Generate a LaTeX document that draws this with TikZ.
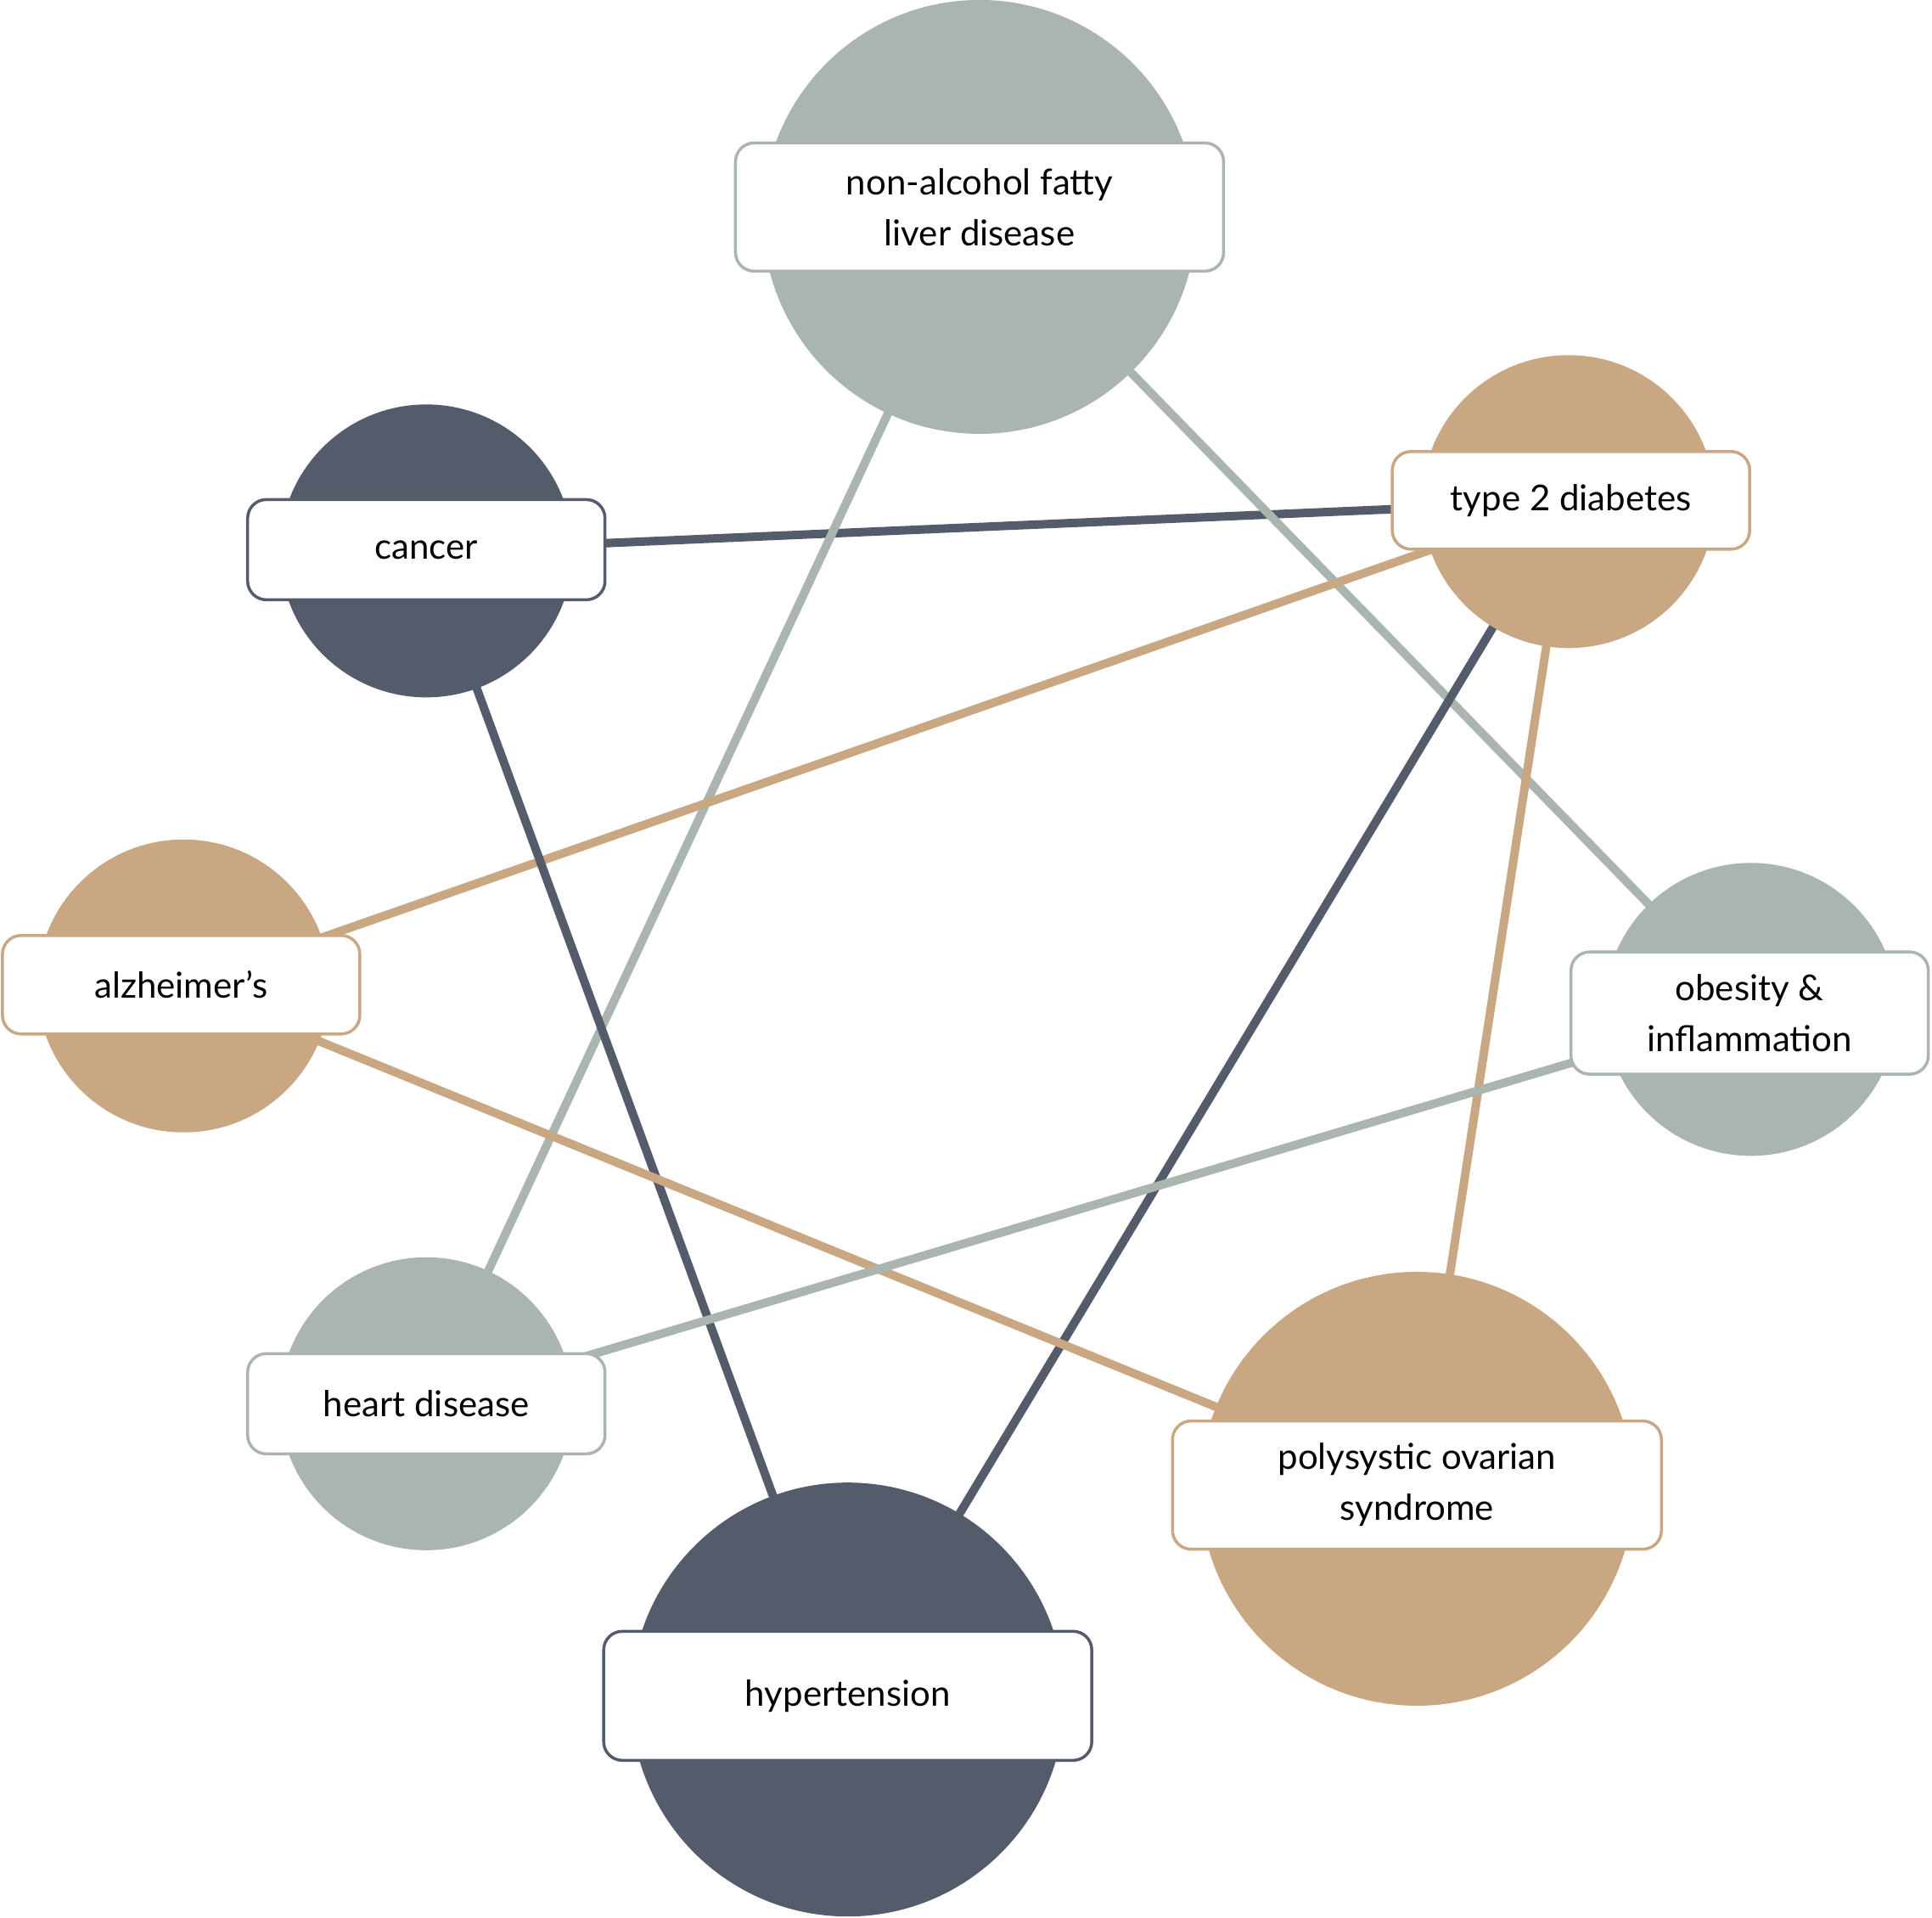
\documentclass[tikz,border=0pt]{standalone}
\usepackage{fontspec}
\setmainfont{Lato}
\definecolor{sage}{HTML}{A9B5AE}
\definecolor{slate}{HTML}{545B6A}
\definecolor{tan}{HTML}{C8A782}
\begin{document}
\begin{tikzpicture}[x=1.4515pt,y=-1.4515pt,
  big/.style={circle,fill=#1,minimum size=511pt,inner sep=0pt},
  small/.style={circle,fill=#1,minimum size=345pt,inner sep=0pt},
  lbl/.style={draw=#1,line width=3.5pt,fill=white,rounded corners=22pt,align=center,font=\fontsize{42}{60}\selectfont,minimum width=421pt,inner sep=0pt},
  link/.style={draw=#1,line width=10pt}]
\useasboundingbox (0,0) rectangle (1568,1556);
\coordinate (cN) at (795,176);
\coordinate (cC) at (346,447);
\coordinate (cT) at (1273,407);
\coordinate (cA) at (149,800);
\coordinate (cO) at (1421,819);
\coordinate (cH) at (346,1139);
\coordinate (cP) at (1150,1208);
\coordinate (cY) at (688,1379);
\draw[link=slate] (cC) -- (cT);
\draw[link=sage] (cN) -- (cH);
\draw[link=sage] (cN) -- (cO);
\draw[link=tan] (cT) -- (cA);
\draw[link=slate] (cT) -- (cY);
\draw[link=tan] (cT) -- (cP);
\draw[link=slate] (cC) -- (cY);
\draw[link=tan] (cA) -- (cP);
\draw[link=sage] (cO) -- (cH);
\node[big=sage] (N) at (cN) {};
\node[small=slate] (C) at (cC) {};
\node[small=tan] (T) at (cT) {};
\node[small=tan] (A) at (cA) {};
\node[small=sage] (O) at (cO) {};
\node[small=sage] (H) at (cH) {};
\node[big=tan] (P) at (cP) {};
\node[big=slate] (Y) at (cY) {};
\node[lbl=sage,minimum width=575pt,minimum height=151pt] (bN) at (795,168) {non-alcohol fatty\\liver disease};
\node[lbl=slate,minimum height=118pt] (bC) at (346,446) {cancer};
\node[lbl=tan,minimum height=115pt] (bT) at (1275,406) {type 2 diabetes};
\node[lbl=tan,minimum height=116pt] (bA) at (147,799) {alzheimer’s};
\node[lbl=sage,minimum height=144pt] (bO) at (1420,822) {obesity \&\\inflammation};
\node[lbl=sage,minimum height=118pt] (bH) at (346,1139) {heart disease};
\node[lbl=tan,minimum width=576pt,minimum height=151pt] (bP) at (1150,1205) {polysystic ovarian\\syndrome};
\node[lbl=slate,minimum width=575pt,minimum height=152pt] (bY) at (688,1376) {hypertension};
\end{tikzpicture}
\end{document}
